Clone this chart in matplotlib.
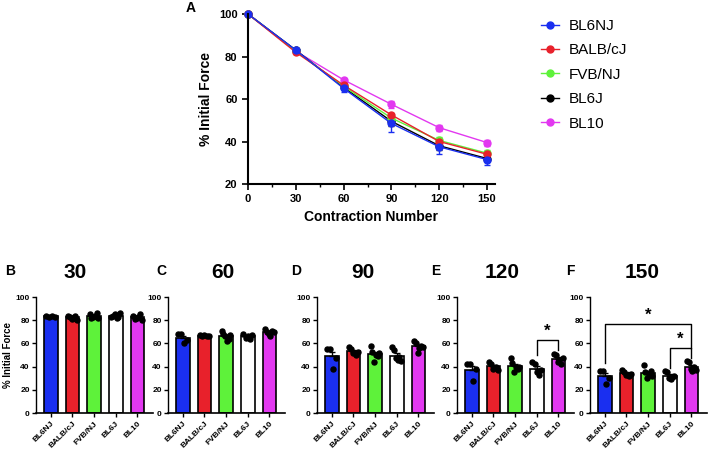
import matplotlib.pyplot as plt
from matplotlib.lines import Line2D
import numpy as np

plt.rcParams['font.family'] = ['Liberation Sans', 'DejaVu Sans']

# --- data ---
strains = ['BL6NJ', 'BALB/cJ', 'FVB/NJ', 'BL6J', 'BL10']
colors = ['#1a2ff0', '#e8212b', '#5ef23a', '#000000', '#e238f0']
bar_colors = ['#1a2ff0', '#e8212b', '#5ef23a', '#ffffff', '#e238f0']

contractions = [0, 30, 60, 90, 120, 150]
mean_bl6nj = [100, 83, 65, 48.5, 37.5, 31.5]
mean_balb = [100, 82, 66.5, 52.5, 40, 34]
mean_fvb = [100, 82.5, 66, 51, 40.5, 34.5]
mean_bl6j = [100, 83, 65.5, 49.5, 38, 32]
mean_bl10 = [100, 82.5, 69, 57.5, 46.5, 39.5]
sem_bl6nj = [0, 0.6, 1.6, 3.8, 3.4, 2.4]
sem_balb = [0, 0.6, 0.4, 1.1, 1.1, 0.8]
sem_fvb = [0, 0.6, 1.3, 1.9, 1.6, 1.6]
sem_bl6j = [0, 0.6, 0.8, 2.0, 1.8, 1.1]
sem_bl10 = [0, 0.8, 0.9, 1.5, 1.5, 1.4]

# individual animals at each contraction (panels B-F)
dots_30 = [[84, 83, 83.5, 82.5], [84, 83, 81, 82, 83.5, 80.5], [85, 82, 83, 84, 86, 82],
           [83, 84, 85, 82, 83, 86], [84, 81, 82, 83, 85, 80]]
dots_60 = [[68, 68, 60, 63], [67, 66, 67, 66.5, 66], [71, 68, 66, 62, 64, 67],
           [68, 65, 66, 64, 67], [72, 70, 68, 66, 71, 70]]
dots_90 = [[55, 55, 38, 47], [57, 55, 52, 50, 53], [58, 53, 44, 50, 49, 52],
           [57, 54, 47, 46, 48, 45], [62, 60, 52, 56, 58, 57]]
dots_120 = [[42, 42, 28, 38], [44, 42, 38, 40, 37], [47, 43, 35, 40, 38, 40],
            [44, 42, 35, 33, 37], [51, 50, 44, 46, 42, 47]]
dots_150 = [[36, 36, 25, 30], [37, 35, 33, 32, 34], [41, 35, 30, 33, 36, 32],
            [36, 35, 30, 29, 31, 32], [45, 44, 38, 36, 40, 37]]

W, H = 708, 453
fig = plt.figure(figsize=(W / 100, H / 100), dpi=100)

def fx(px):
    return px / W

def fy(py):
    return 1 - py / H

# --- panel A: line plot ---
ax = fig.add_axes([fx(248), fy(184), fx(495 - 248), 170 / H])
means = [mean_bl6nj, mean_balb, mean_fvb, mean_bl6j, mean_bl10]
sems = [sem_bl6nj, sem_balb, sem_fvb, sem_bl6j, sem_bl10]
for i in [4, 3, 2, 1, 0]:
    ax.errorbar(contractions, means[i], yerr=sems[i], color=colors[i], marker='o',
                markersize=5, linewidth=1, capsize=2.5, elinewidth=1, clip_on=False)
ax.set_xlim(0, 155)
ax.set_ylim(20, 100)
ax.set_xticks(contractions)
ax.set_xticks([15, 45, 75, 105, 135], minor=True)
ax.set_yticks([20, 40, 60, 80, 100])
ax.spines['top'].set_visible(False)
ax.spines['right'].set_visible(False)
ax.spines['left'].set_linewidth(1.5)
ax.spines['bottom'].set_linewidth(1.5)
ax.tick_params(which='major', length=4, width=1.2, labelsize=8)
ax.tick_params(which='minor', length=2.5, width=1)
for lab in ax.get_xticklabels() + ax.get_yticklabels():
    lab.set_fontweight('bold')
ax.set_xlabel('Contraction Number', fontsize=10, fontweight='bold', labelpad=4)
ax.set_ylabel('% Initial Force', fontsize=10, fontweight='bold')
fig.text(fx(191), fy(8), 'A', fontsize=10, fontweight='bold', ha='center', va='center')

# legend: plain line + marker, no error bars
handles = [Line2D([], [], color=c, marker='o', markersize=5, linewidth=1) for c in colors]
fig.legend(handles=handles, labels=strains, loc='upper left',
           bbox_to_anchor=(fx(541), fy(19)), frameon=False, fontsize=11,
           handlelength=1.2, handletextpad=0.6, labelspacing=0.68, borderpad=0,
           borderaxespad=0)

# --- panels B-F: bars with individual points ---
lefts = [36, 168, 317, 457, 590]
titles = ['30', '60', '90', '120', '150']
title_x = [75, 223, 363, 502, 642]
letters = ['B', 'C', 'D', 'E', 'F']
letter_x = [10, 161, 296, 436, 570]
all_dots = [dots_30, dots_60, dots_90, dots_120, dots_150]

x = np.arange(5)
for p in range(5):
    bx = fig.add_axes([fx(lefts[p]), fy(413), fx(117), 116 / H])
    dots = all_dots[p]
    for i in range(5):
        vals = np.array(dots[i])
        m = vals.mean()
        se = vals.std(ddof=1) / np.sqrt(len(vals))
        bx.bar(x[i], m, width=0.63, color=bar_colors[i], edgecolor='black', linewidth=1.2,
               zorder=2)
        bx.errorbar(x[i], m, yerr=[[0], [se]], color='black', capsize=2, elinewidth=1,
                    capthick=1, zorder=3)
        offs = np.linspace(-0.2, 0.2, len(vals))
        bx.scatter(x[i] + offs, vals, s=13, color='black', zorder=4, clip_on=False)
    bx.set_xlim(-0.68, 4.72)
    bx.set_ylim(0, 100)
    bx.set_yticks([0, 20, 40, 60, 80, 100])
    bx.set_xticks(x)
    bx.set_xticklabels(strains, rotation=45, ha='right', rotation_mode='anchor',
                       fontsize=6, fontweight='bold')
    for lab in bx.get_yticklabels():
        lab.set_fontweight('bold')
    bx.tick_params(axis='y', labelsize=6, length=3, width=1, pad=1.5)
    bx.tick_params(axis='x', length=3, width=1, pad=2)
    bx.spines['top'].set_visible(False)
    bx.spines['right'].set_visible(False)
    bx.spines['left'].set_linewidth(1)
    bx.spines['bottom'].set_linewidth(1.2)
    if p == 0:
        bx.set_ylabel('% Initial Force', fontsize=7, fontweight='bold', labelpad=2)
    fig.text(fx(title_x[p]), fy(272), titles[p], fontsize=15, fontweight='bold',
             ha='center', va='center')
    fig.text(fx(letter_x[p]), fy(271), letters[p], fontsize=10, fontweight='bold',
             ha='center', va='center')

    if p == 3:
        bx.plot([3, 3, 4, 4], [50, 63, 63, 54], color='black', lw=1)
        bx.text(3.5, 64, '*', ha='center', va='bottom', fontsize=12, fontweight='bold')
    if p == 4:
        bx.plot([0, 0, 4, 4], [43, 77, 77, 56], color='black', lw=1)
        bx.text(2, 78, '*', ha='center', va='bottom', fontsize=12, fontweight='bold')
        bx.plot([3, 3, 4, 4], [39, 56, 56, 47], color='black', lw=1)
        bx.text(3.5, 57, '*', ha='center', va='bottom', fontsize=12, fontweight='bold')

fig.savefig('out.png', dpi=100)
